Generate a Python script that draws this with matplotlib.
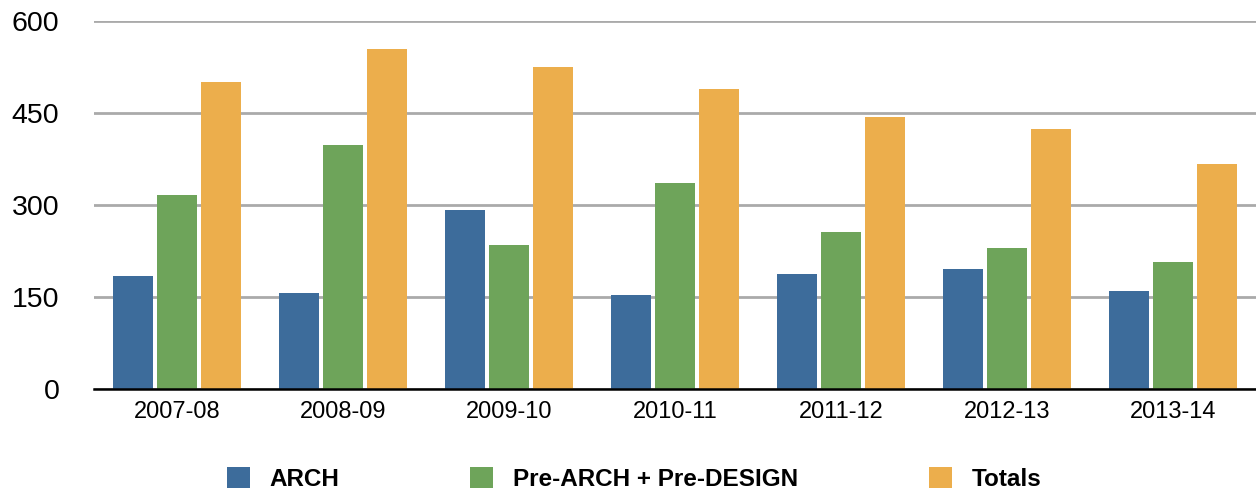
import matplotlib
matplotlib.use("Agg")
import matplotlib.pyplot as plt
from matplotlib.patches import Patch
import numpy as np

plt.rcParams['font.family'] = ['Liberation Sans', 'DejaVu Sans']

categories = ["2007-08", "2008-09", "2009-10", "2010-11", "2011-12", "2012-13", "2013-14"]
arch = [184, 156, 292, 154, 187, 195, 159]
pre_arch_design = [316, 398, 234, 336, 256, 230, 207]
totals = [500, 554, 525, 489, 443, 424, 367]
series_names = ["ARCH", "Pre-ARCH + Pre-DESIGN", "Totals"]
colors = ["#3d6c9b", "#6ea45a", "#ecae4c"]
yticks = [0, 150, 300, 450, 600]

fig = plt.figure(figsize=(12.56, 4.93), dpi=100)
ax = fig.add_axes([94/1256, 1-389/493, 1-94/1256, (389-21)/493])

x = np.arange(len(categories))
w = 0.24
offsets = [-0.265, 0.0, 0.265]
for vals, off, c in zip([arch, pre_arch_design, totals], offsets, colors):
    ax.bar(x + off, vals, width=w, color=c, zorder=3)

ax.set_xlim(-0.5, len(categories) - 0.5)
ax.set_ylim(0, 600)
ax.set_yticks(yticks)
ax.set_yticklabels([str(v) for v in yticks], fontsize=20.5)
ax.set_xticks(x)
ax.set_xticklabels(categories, fontsize=17)
ax.tick_params(axis='y', length=0, pad=25)
ax.tick_params(axis='x', length=0, pad=9)
ax.yaxis.grid(True, color="#aaaaaa", linewidth=2, zorder=0)
ax.set_axisbelow(True)
for s in ["top", "right", "left"]:
    ax.spines[s].set_visible(False)
ax.spines["bottom"].set_color("black")
ax.spines["bottom"].set_linewidth(1.8)
ax.spines["bottom"].set_zorder(4)

handles = [Patch(facecolor=c, edgecolor='none') for c in colors]
leg = fig.legend(handles, series_names, loc="center", bbox_to_anchor=(634/1256, 1-479/493),
                 ncol=3, frameon=False, prop={'weight': 'bold', 'size': 17.5},
                 handlelength=0.95, handleheight=0.95, handletextpad=0.8, columnspacing=5.4,
                 borderaxespad=0, borderpad=0)

fig.savefig("out.png", dpi=100)
